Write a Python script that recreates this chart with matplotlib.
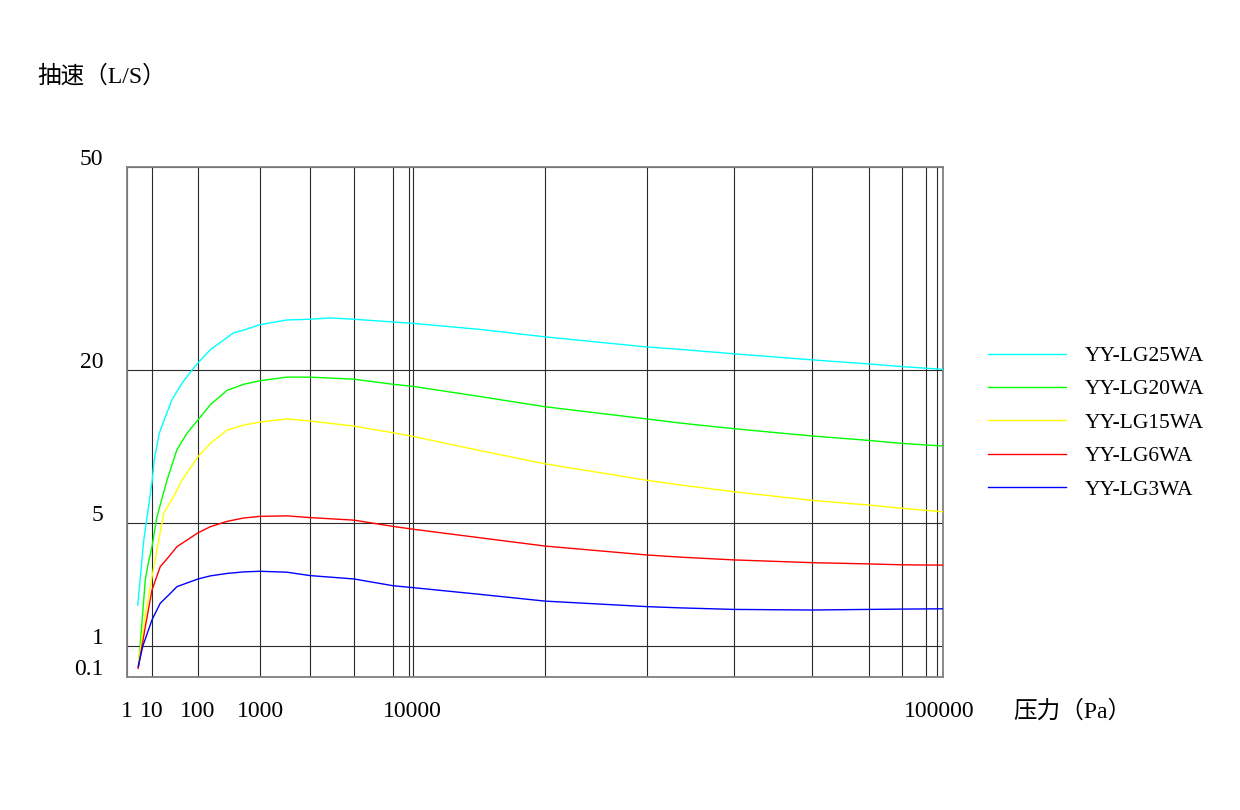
import numpy as np
import matplotlib
matplotlib.use("Agg")
import matplotlib.pyplot as plt
import matplotlib.transforms as mtransforms

# ---------------- data ----------------
series_names = ["YY-LG25WA", "YY-LG20WA", "YY-LG15WA", "YY-LG6WA", "YY-LG3WA"]
series_colors = ["#00FFFF", "#00FF00", "#FFFF00", "#FF0000", "#0000FF"]

lg25_p = [2.7, 4.7, 10, 11.2, 14.4, 19.5, 27.2, 44.9, 74, 106, 158, 216, 376, 546,
          1000, 1454, 2000, 2740, 4000, 6000, 10000, 14230, 20000, 30000, 33500,
          40000, 50000, 60000, 70000, 100000]
lg25_s = [2.33, 4.45, 9.0, 11.2, 13.8, 15.4, 17.1, 18.7, 20.0, 21.3, 23.0, 23.9, 25.5,
          25.9, 26.7, 27.4, 27.5, 27.7, 27.5, 27.1, 26.9, 26.0, 24.9, 23.4, 23.05,
          22.4, 21.5, 20.9, 20.5, 20.1]

lg20_p = [2.9, 5.4, 7.3, 10, 12.8, 21.2, 25, 34.9, 57.6, 100, 158, 294, 546, 1000,
          1454, 2000, 4000, 6000, 10000, 14230, 20000, 30000, 33500, 40000, 50000,
          60000, 70000, 100000]
lg20_s = [0.45, 3.15, 3.74, 4.23, 5.6, 9.2, 10.2, 12.2, 13.8, 15.1, 16.6, 18.0, 18.6,
          18.95, 19.3, 19.3, 19.1, 18.6, 18.4, 17.4, 16.4, 15.2, 14.8, 14.25, 13.53,
          13.1, 12.8, 12.55]

lg15_p = [2.9, 5.4, 10, 18, 29.6, 44.9, 100, 158, 294, 546, 1000, 1454, 2000, 4000,
          6000, 10000, 14230, 20000, 30000, 33500, 40000, 50000, 60000, 70000, 100000]
lg15_s = [0.55, 2.0, 3.25, 5.95, 7.6, 9.2, 11.5, 12.8, 14.1, 14.6, 14.9, 15.2, 15.0,
          14.5, 13.85, 13.5, 12.1, 10.8, 9.19, 8.73, 8.07, 7.22, 6.76, 6.44, 6.1]

lg6_p = [2.8, 4.0, 5.4, 10, 15.1, 23.1, 34.9, 100, 158, 294, 546, 1000, 1454, 2000,
         4000, 6000, 10000, 14230, 20000, 30000, 33500, 40000, 50000, 60000, 70000,
         100000]
lg6_s = [0.35, 1.0, 1.63, 2.82, 3.58, 3.9, 4.23, 4.68, 4.88, 5.16, 5.49, 5.65, 5.7,
         5.53, 5.28, 4.89, 4.8, 4.52, 4.25, 3.96, 3.89, 3.80, 3.71, 3.67, 3.64, 3.63]

lg3_p = [2.8, 4.3, 10, 15.1, 23.1, 34.9, 100, 158, 294, 546, 1000, 1454, 2000, 4000,
         6000, 10000, 14230, 20000, 30000, 33500, 40000, 50000, 60000, 70000, 100000]
lg3_s = [0.4, 1.0, 1.85, 2.39, 2.66, 2.93, 3.18, 3.28, 3.36, 3.41, 3.43, 3.40, 3.29,
         3.18, 2.96, 2.9, 2.68, 2.46, 2.28, 2.24, 2.19, 2.17, 2.19, 2.2, 2.21]

series_p = [lg25_p, lg20_p, lg15_p, lg6_p, lg3_p]
series_s = [lg25_s, lg20_s, lg15_s, lg6_s, lg3_s]

x_grid_values = [1, 10, 100, 1000, 2000, 4000, 6000, 8000, 10000, 20000, 30000, 40000,
                 50000, 60000, 70000, 80000, 90000, 100000]
x_tick_labels = ["1", "10", "100", "1000", "", "", "", "", "10000", "", "", "", "", "",
                 "", "", "", "100000"]
y_ticks = [0.1, 1, 5, 20, 50]
y_tick_labels = ["0.1", "1", "5", "20", "50"]

# ------------- non-uniform axis scales (as printed on the chart) -------------
x_scale_knots = np.log10(x_grid_values)
x_scale_pos = np.array([0, 25, 71, 133, 183, 227, 266, 282, 285.5, 418, 520, 606.5,
                        685, 741.5, 775, 798.7, 809.5, 816], float)
y_scale_knots = np.array(y_ticks, float)
y_scale_pos = np.array([0, 31, 154, 307, 510], float)


def make_interp(xk, yk):
    xk = np.asarray(xk, float)
    yk = np.asarray(yk, float)

    def f(v):
        v = np.asarray(v, float)
        out = np.interp(v, xk, yk)
        lo = yk[0] + (v - xk[0]) * (yk[1] - yk[0]) / (xk[1] - xk[0])
        hi = yk[-1] + (v - xk[-1]) * (yk[-1] - yk[-2]) / (xk[-1] - xk[-2])
        out = np.where(v < xk[0], lo, out)
        out = np.where(v > xk[-1], hi, out)
        return out
    return f


fx = make_interp(x_scale_knots, x_scale_pos)
fx_inv = make_interp(x_scale_pos, x_scale_knots)
fy = make_interp(y_scale_knots, y_scale_pos)
fy_inv = make_interp(y_scale_pos, y_scale_knots)


def x_forward(x):
    return fx(np.log10(np.clip(np.asarray(x, float), 1e-12, None)))


def x_inverse(p):
    return 10 ** fx_inv(p)


# ---------------- figure ----------------
W, H = 1240, 810
fig = plt.figure(figsize=(W / 100, H / 100), dpi=100)
ax = fig.add_axes([127 / W, 1 - 677 / H, (943 - 127) / W, (677 - 167) / H])

ax.set_xscale("function", functions=(x_forward, x_inverse))
ax.set_yscale("function", functions=(fy, fy_inv))
ax.set_xlim(1, 100000)
ax.set_ylim(0.1, 50)

fonts = ["Liberation Serif", "Noto Sans CJK SC", "DejaVu Sans"]
fs = 17

for p, s, c, n in zip(series_p, series_s, series_colors, series_names):
    ax.plot(p, s, color=c, lw=1.0, label=n, zorder=3, solid_joinstyle="round")

ax.set_xticks(x_grid_values)
ax.set_xticklabels(x_tick_labels, family=fonts, fontsize=fs)
ax.set_yticks(y_ticks)
ax.set_yticklabels(y_tick_labels, family=fonts, fontsize=fs)
ax.minorticks_off()
ax.tick_params(axis="both", length=0, colors="#000000")
ax.tick_params(axis="x", pad=17)
ax.tick_params(axis="y", pad=17)
off = mtransforms.ScaledTranslation(0, 7 / 72, fig.dpi_scale_trans)
for lab in ax.get_yticklabels():
    lab.set_transform(lab.get_transform() + off)
offx = mtransforms.ScaledTranslation(-3 / 72, 0, fig.dpi_scale_trans)
ax.get_xticklabels()[-1].set_transform(ax.get_xticklabels()[-1].get_transform() + offx)

ax.grid(True, color="#2a2a2a", lw=0.8, zorder=1)
for sp in ax.spines.values():
    sp.set_color("#808080")
    sp.set_linewidth(1.3)

fig.text(37 / W, 1 - 76 / H, "抽速（L/S）", family=fonts, fontsize=fs,
         ha="left", va="center")
fig.text(1013 / W, 1 - 711 / H, "压力（Pa）", family=fonts, fontsize=fs,
         ha="left", va="center")

leg = ax.legend(loc="upper left", bbox_to_anchor=(988 / W, 1 - 346 / H),
                bbox_transform=fig.transFigure, frameon=False,
                prop={"family": fonts, "size": 15.5}, handlelength=3.6,
                handletextpad=0.9, labelspacing=0.62, borderpad=0,
                borderaxespad=0)

fig.savefig("out.png", dpi=100)
